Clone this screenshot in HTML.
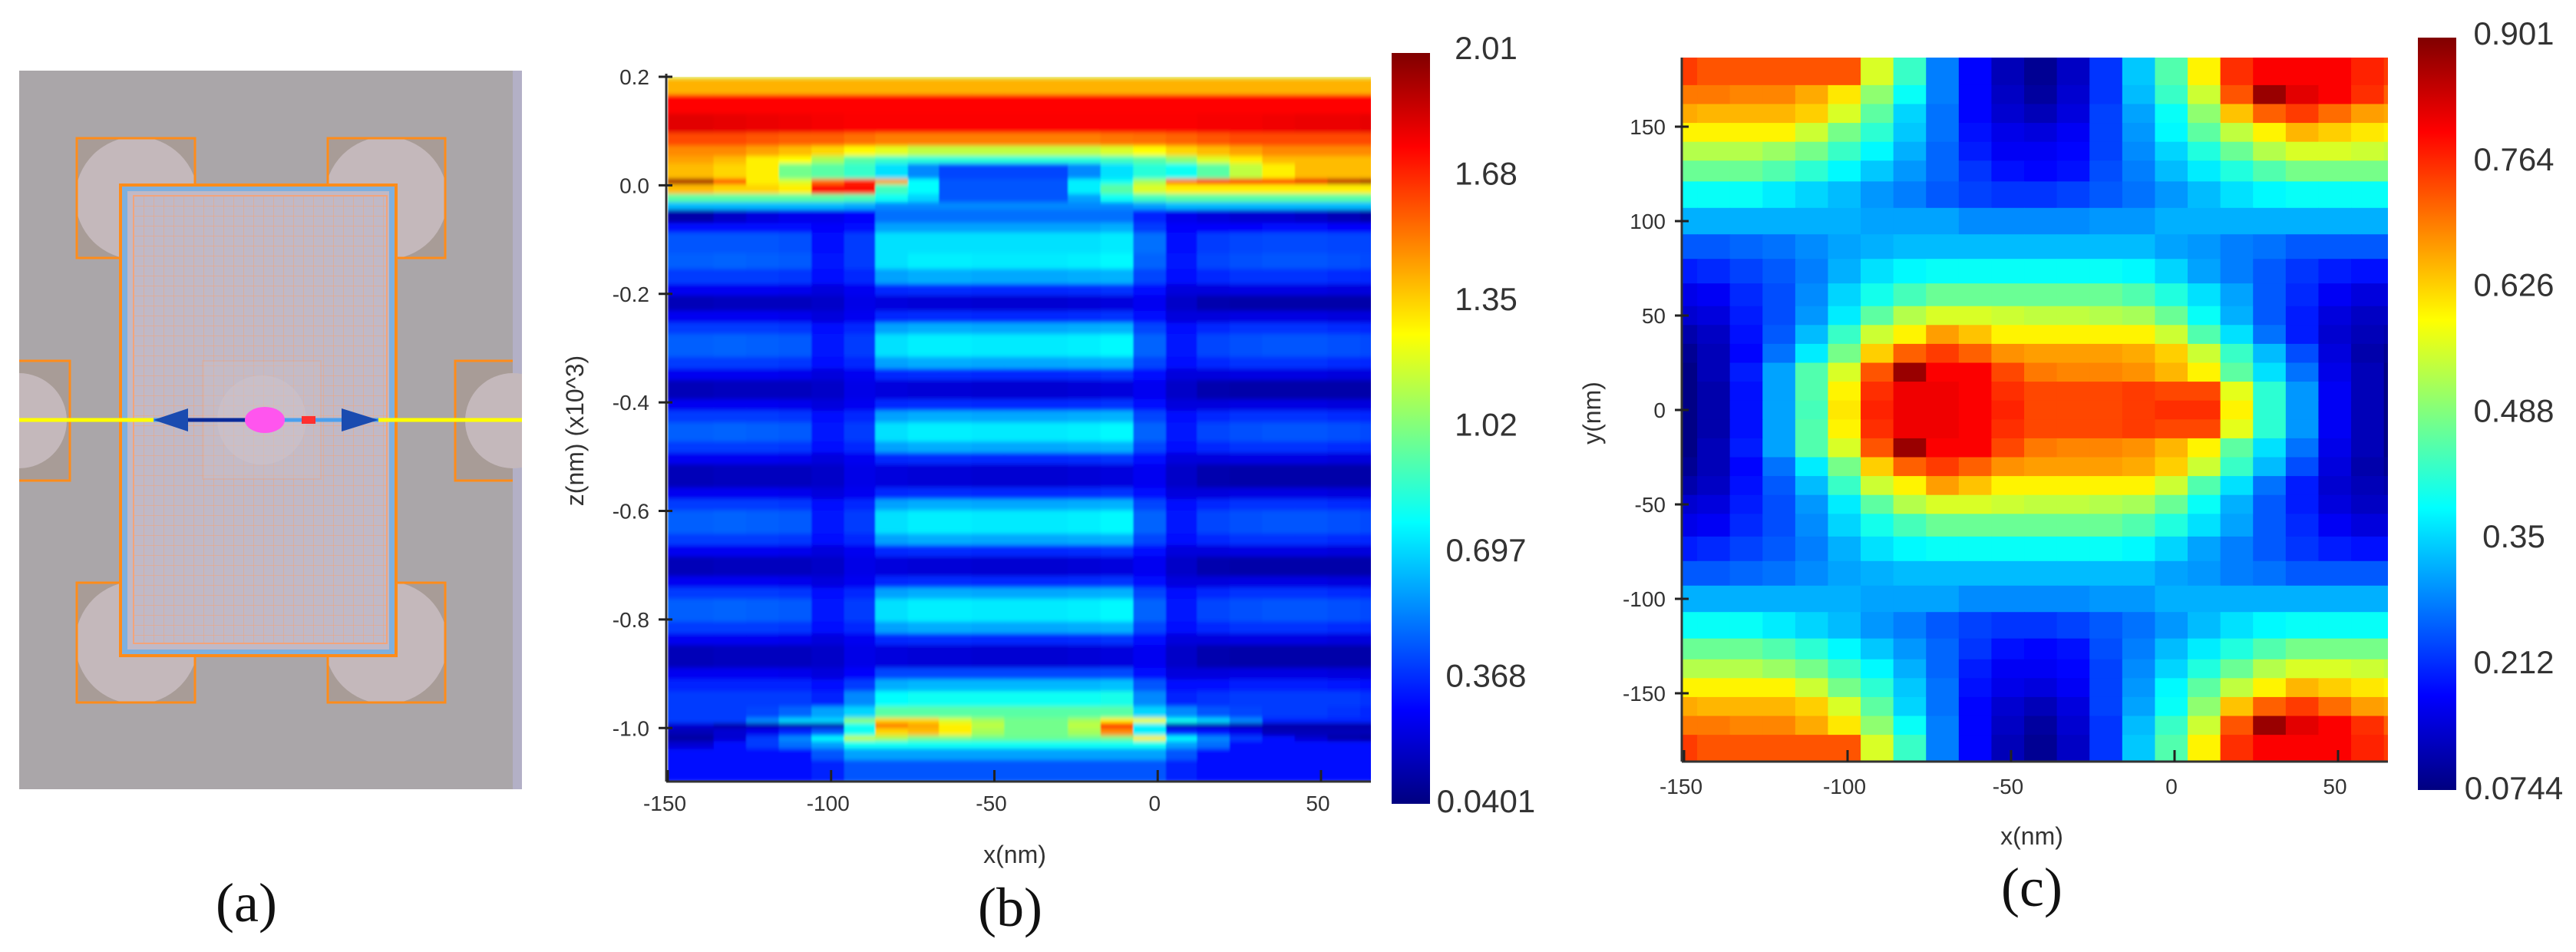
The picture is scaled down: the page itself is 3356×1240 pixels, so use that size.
<!DOCTYPE html>
<html><head><meta charset="utf-8"><style>
html,body{margin:0;padding:0;background:#fff;}
svg{display:block;font-family:"Liberation Sans",sans-serif;}
</style></head><body>
<svg id="fig" width="3356" height="1240" viewBox="0 0 3356 1240" xmlns="http://www.w3.org/2000/svg">
<defs>
<pattern id="gridpat" x="174" y="255" width="13" height="13" patternUnits="userSpaceOnUse">
<path d="M13 0 L0 0 0 13" fill="none" stroke="#f2a277" stroke-width="1.3" opacity="0.8"/>
</pattern>
<clipPath id="clipTL"><rect x="100" y="180" width="154" height="156"/></clipPath>
<clipPath id="clipTR"><rect x="427" y="180" width="153" height="156"/></clipPath>
<clipPath id="clipBL"><rect x="100" y="759" width="154" height="156"/></clipPath>
<clipPath id="clipBR"><rect x="427" y="759" width="153" height="156"/></clipPath>
<clipPath id="clipL"><rect x="25" y="470" width="66" height="156"/></clipPath>
<clipPath id="clipR"><rect x="593" y="470" width="87" height="156"/></clipPath>
<clipPath id="clipB"><rect x="868" y="100" width="918" height="918"/></clipPath>
<clipPath id="clipC"><rect x="2191" y="75" width="920" height="917"/></clipPath>
<filter id="vblur" x="0" y="0" width="1" height="1"><feGaussianBlur stdDeviation="1 3"/></filter>
<linearGradient id="jetGrad" x1="0" y1="1" x2="0" y2="0">
<stop offset="0" stop-color="#000080"/><stop offset="0.125" stop-color="#0000ff"/>
<stop offset="0.375" stop-color="#00ffff"/><stop offset="0.625" stop-color="#ffff00"/>
<stop offset="0.875" stop-color="#ff0000"/><stop offset="1" stop-color="#800000"/>
</linearGradient>
</defs>

<g>
<rect x="25" y="92" width="655" height="936" fill="#aaa6a9"/>
<rect x="668" y="92" width="12" height="936" fill="#b3b0c6"/>
<g><rect x="100" y="180" width="154" height="156" fill="#a89c97"/><circle cx="178" cy="258" r="80" fill="#c4b8bb" clip-path="url(#clipTL)"/><rect x="100" y="180" width="154" height="156" fill="none" stroke="#ff8c1a" stroke-width="3"/></g>
<g><rect x="427" y="180" width="153" height="156" fill="#a89c97"/><circle cx="503" cy="258" r="80" fill="#c4b8bb" clip-path="url(#clipTR)"/><rect x="427" y="180" width="153" height="156" fill="none" stroke="#ff8c1a" stroke-width="3"/></g>
<g><rect x="100" y="759" width="154" height="156" fill="#a89c97"/><circle cx="178" cy="837" r="80" fill="#c4b8bb" clip-path="url(#clipBL)"/><rect x="100" y="759" width="154" height="156" fill="none" stroke="#ff8c1a" stroke-width="3"/></g>
<g><rect x="427" y="759" width="153" height="156" fill="#a89c97"/><circle cx="503" cy="837" r="80" fill="#c4b8bb" clip-path="url(#clipBR)"/><rect x="427" y="759" width="153" height="156" fill="none" stroke="#ff8c1a" stroke-width="3"/></g>
<g><rect x="25" y="470" width="66" height="156" fill="#a89c97"/><circle cx="25" cy="548" r="62" fill="#c4b8bb" clip-path="url(#clipL)"/><path d="M25 470 H91 V626 H25" fill="none" stroke="#ff8c1a" stroke-width="3"/></g>
<g><rect x="593" y="470" width="75" height="156" fill="#a89c97"/><circle cx="668" cy="548" r="62" fill="#c4b8bb" clip-path="url(#clipR)"/><path d="M668 470 H593 V626 H668" fill="none" stroke="#ff8c1a" stroke-width="3"/></g>
<g>
<rect x="157" y="241" width="359" height="613" fill="#7db0e0" stroke="#ff8c1a" stroke-width="4"/>
<rect x="166" y="249" width="341" height="597" fill="#c0b9c7"/>
<rect x="174" y="255" width="330" height="583" fill="url(#gridpat)" stroke="#f3a47a" stroke-width="2"/>
<rect x="264" y="470" width="154" height="154" fill="#cbc2c9" opacity="0.3" stroke="#f3a47a" stroke-width="2"/>
<circle cx="341" cy="547" r="58" fill="#d2c8ce" opacity="0.35"/>
</g>
<line x1="25" y1="547" x2="680" y2="547" stroke="#ffff00" stroke-width="5"/>
<g>
<line x1="200" y1="547" x2="493" y2="547" stroke="#4aa0ee" stroke-width="5"/>
<line x1="235" y1="547" x2="345" y2="547" stroke="#0a2a9a" stroke-width="5"/>
<polygon points="200,547 245,532 245,562" fill="#1a4bb0"/>
<polygon points="493,547 445,532 445,562" fill="#1a4bb0"/>
<ellipse cx="345" cy="547" rx="26" ry="17" fill="#ff55ee"/>
<rect x="393" y="542" width="18" height="10" fill="#ff3030"/>
</g>
<text x="321" y="1200" font-family="'Liberation Serif',serif" font-size="72" text-anchor="middle" fill="#111">(a)</text>
</g>

<g id="panelB">
<g id="bHeat" clip-path="url(#clipB)"><g id="bCells" filter="url(#vblur)"></g></g>
<g id="bAxes"></g>
<rect x="1813" y="69" width="50" height="978" fill="url(#jetGrad)"/>
<g id="bCbLabels"></g>
<text x="0" y="0" transform="translate(760,561) rotate(-90)" font-size="32" text-anchor="middle" fill="#333">z(nm) (x10^3)</text>
<text x="1322" y="1124" font-size="32" text-anchor="middle" fill="#333">x(nm)</text>
<text x="1316" y="1206" font-family="'Liberation Serif',serif" font-size="72" text-anchor="middle" fill="#111">(b)</text>
</g>

<g id="panelC">
<g id="cHeat" clip-path="url(#clipC)"></g>
<g id="cAxes"></g>
<rect x="3150" y="49" width="50" height="980" fill="url(#jetGrad)"/>
<g id="cCbLabels"></g>
<text x="0" y="0" transform="translate(2085,538) rotate(-90)" font-size="32" text-anchor="middle" fill="#333">y(nm)</text>
<text x="2647" y="1100" font-size="32" text-anchor="middle" fill="#333">x(nm)</text>
<text x="2647" y="1180" font-family="'Liberation Serif',serif" font-size="72" text-anchor="middle" fill="#111">(c)</text>
</g>
</svg>
<script>
const bXEdges = [-150,-136,-126,-116,-106,-96,-86.5,-76.5,-67,-57,-47,-37.5,-27.5,-17.5,-7.5,2.5,12,22,32,42,52,62,66];
const bZEdges = [0.200,0.197,0.167,0.132,0.097,0.073,0.054,0.040,0.012,0.002,-0.016,-0.031,-0.045,-0.069,-0.087,-0.125,-0.154,-0.182,-0.203,-0.231,-0.253,-0.274,-0.316,-0.338,-0.359,-0.394,-0.415,-0.437,-0.472,-0.493,-0.514,-0.557,-0.578,-0.599,-0.642,-0.663,-0.684,-0.720,-0.741,-0.762,-0.804,-0.826,-0.847,-0.889,-0.910,-0.932,-0.960,-0.981,-0.991,-1.000,-1.014,-1.024,-1.038,-1.059,-1.100];
const bValues = [
[1.15,1.15,1.15,1.15,1.15,1.15,1.15,1.15,1.15,1.15,1.15,1.15,1.15,1.15,1.15,1.15,1.15,1.15,1.15,1.15,1.15,1.15],
[1.42,1.42,1.42,1.42,1.42,1.42,1.42,1.42,1.42,1.42,1.42,1.42,1.42,1.42,1.42,1.42,1.42,1.42,1.42,1.42,1.42,1.42],
[1.76,1.76,1.76,1.76,1.76,1.76,1.76,1.76,1.76,1.76,1.76,1.76,1.76,1.76,1.76,1.76,1.76,1.76,1.76,1.76,1.76,1.76],
[1.82,1.81,1.80,1.79,1.78,1.77,1.77,1.77,1.77,1.77,1.77,1.77,1.77,1.77,1.77,1.77,1.78,1.78,1.79,1.80,1.80,1.81],
[1.62,1.62,1.60,1.58,1.58,1.55,1.52,1.52,1.52,1.52,1.52,1.52,1.52,1.54,1.55,1.57,1.60,1.62,1.62,1.62,1.62,1.62],
[1.50,1.50,1.45,1.40,1.35,1.28,1.22,1.15,1.15,1.15,1.15,1.15,1.15,1.20,1.27,1.35,1.40,1.45,1.50,1.50,1.50,1.50],
[1.45,1.40,1.30,1.27,1.10,0.95,0.88,0.85,0.85,0.85,0.85,0.85,0.85,0.90,0.95,1.05,1.20,1.30,1.40,1.40,1.40,1.40],
[1.40,1.35,1.30,1.00,0.95,0.88,0.72,0.55,0.42,0.42,0.42,0.42,0.55,0.72,0.85,0.80,0.95,1.15,1.30,1.40,1.40,1.40],
[1.95,1.60,1.30,1.20,1.55,1.70,1.45,0.78,0.45,0.45,0.45,0.45,0.75,0.80,1.10,1.55,1.75,1.75,1.70,1.80,1.90,1.95],
[1.40,1.35,1.35,1.30,1.75,1.75,0.90,0.78,0.45,0.45,0.45,0.45,0.75,0.95,1.20,1.30,1.30,1.30,1.30,1.30,1.30,1.30],
[0.95,0.95,0.95,0.95,0.95,0.92,0.80,0.70,0.45,0.45,0.45,0.45,0.60,0.80,0.90,0.95,0.95,0.95,0.95,0.95,0.95,0.95],
[0.65,0.65,0.65,0.65,0.65,0.62,0.55,0.55,0.55,0.55,0.55,0.55,0.55,0.55,0.60,0.65,0.65,0.65,0.65,0.65,0.65,0.65],
[0.12,0.18,0.22,0.25,0.25,0.28,0.50,0.50,0.50,0.50,0.50,0.50,0.50,0.50,0.35,0.25,0.22,0.20,0.20,0.18,0.15,0.12],
[0.30,0.30,0.30,0.30,0.28,0.30,0.60,0.60,0.60,0.60,0.60,0.60,0.60,0.62,0.40,0.28,0.28,0.28,0.30,0.30,0.28,0.28],
[0.45,0.45,0.45,0.44,0.30,0.40,0.72,0.72,0.72,0.72,0.72,0.72,0.72,0.74,0.50,0.30,0.40,0.42,0.43,0.43,0.42,0.42],
[0.47,0.48,0.47,0.46,0.33,0.40,0.72,0.75,0.75,0.74,0.74,0.74,0.75,0.77,0.48,0.33,0.42,0.44,0.45,0.45,0.44,0.43],
[0.40,0.40,0.40,0.39,0.30,0.36,0.60,0.62,0.62,0.61,0.61,0.61,0.62,0.63,0.42,0.30,0.36,0.38,0.38,0.38,0.37,0.36],
[0.26,0.26,0.26,0.25,0.22,0.26,0.36,0.37,0.37,0.36,0.36,0.36,0.37,0.38,0.30,0.22,0.22,0.23,0.23,0.23,0.22,0.22],
[0.15,0.16,0.16,0.16,0.18,0.24,0.22,0.21,0.21,0.20,0.20,0.20,0.21,0.22,0.26,0.18,0.13,0.12,0.12,0.12,0.12,0.12],
[0.26,0.26,0.26,0.25,0.22,0.26,0.36,0.37,0.37,0.36,0.36,0.36,0.37,0.38,0.30,0.22,0.22,0.23,0.23,0.23,0.22,0.22],
[0.40,0.40,0.40,0.39,0.30,0.36,0.60,0.62,0.62,0.61,0.61,0.61,0.62,0.63,0.42,0.30,0.36,0.38,0.38,0.38,0.37,0.36],
[0.47,0.48,0.47,0.46,0.33,0.40,0.72,0.75,0.75,0.74,0.74,0.74,0.75,0.77,0.48,0.33,0.42,0.44,0.45,0.45,0.44,0.43],
[0.40,0.40,0.40,0.39,0.30,0.36,0.60,0.62,0.62,0.61,0.61,0.61,0.62,0.63,0.42,0.30,0.36,0.38,0.38,0.38,0.37,0.36],
[0.26,0.26,0.26,0.25,0.22,0.26,0.36,0.37,0.37,0.36,0.36,0.36,0.37,0.38,0.30,0.22,0.22,0.23,0.23,0.23,0.22,0.22],
[0.15,0.16,0.16,0.16,0.18,0.24,0.22,0.21,0.21,0.20,0.20,0.20,0.21,0.22,0.26,0.18,0.13,0.12,0.12,0.12,0.12,0.12],
[0.26,0.26,0.26,0.25,0.22,0.26,0.36,0.37,0.37,0.36,0.36,0.36,0.37,0.38,0.30,0.22,0.22,0.23,0.23,0.23,0.22,0.22],
[0.40,0.40,0.40,0.39,0.30,0.36,0.60,0.62,0.62,0.61,0.61,0.61,0.62,0.63,0.42,0.30,0.36,0.38,0.38,0.38,0.37,0.36],
[0.47,0.48,0.47,0.46,0.33,0.40,0.72,0.75,0.75,0.74,0.74,0.74,0.75,0.77,0.48,0.33,0.42,0.44,0.45,0.45,0.44,0.43],
[0.40,0.40,0.40,0.39,0.30,0.36,0.60,0.62,0.62,0.61,0.61,0.61,0.62,0.63,0.42,0.30,0.36,0.38,0.38,0.38,0.37,0.36],
[0.26,0.26,0.26,0.25,0.22,0.26,0.36,0.37,0.37,0.36,0.36,0.36,0.37,0.38,0.30,0.22,0.22,0.23,0.23,0.23,0.22,0.22],
[0.15,0.16,0.16,0.16,0.18,0.24,0.22,0.21,0.21,0.20,0.20,0.20,0.21,0.22,0.26,0.18,0.13,0.12,0.12,0.12,0.12,0.12],
[0.26,0.26,0.26,0.25,0.22,0.26,0.36,0.37,0.37,0.36,0.36,0.36,0.37,0.38,0.30,0.22,0.22,0.23,0.23,0.23,0.22,0.22],
[0.40,0.40,0.40,0.39,0.30,0.36,0.60,0.62,0.62,0.61,0.61,0.61,0.62,0.63,0.42,0.30,0.36,0.38,0.38,0.38,0.37,0.36],
[0.47,0.48,0.47,0.46,0.33,0.40,0.72,0.75,0.75,0.74,0.74,0.74,0.75,0.77,0.48,0.33,0.42,0.44,0.45,0.45,0.44,0.43],
[0.40,0.40,0.40,0.39,0.30,0.36,0.60,0.62,0.62,0.61,0.61,0.61,0.62,0.63,0.42,0.30,0.36,0.38,0.38,0.38,0.37,0.36],
[0.26,0.26,0.26,0.25,0.22,0.26,0.36,0.37,0.37,0.36,0.36,0.36,0.37,0.38,0.30,0.22,0.22,0.23,0.23,0.23,0.22,0.22],
[0.15,0.16,0.16,0.16,0.18,0.24,0.22,0.21,0.21,0.20,0.20,0.20,0.21,0.22,0.26,0.18,0.13,0.12,0.12,0.12,0.12,0.12],
[0.26,0.26,0.26,0.25,0.22,0.26,0.36,0.37,0.37,0.36,0.36,0.36,0.37,0.38,0.30,0.22,0.22,0.23,0.23,0.23,0.22,0.22],
[0.40,0.40,0.40,0.39,0.30,0.36,0.60,0.62,0.62,0.61,0.61,0.61,0.62,0.63,0.42,0.30,0.36,0.38,0.38,0.38,0.37,0.36],
[0.47,0.48,0.47,0.46,0.33,0.40,0.72,0.75,0.75,0.74,0.74,0.74,0.75,0.77,0.48,0.33,0.42,0.44,0.45,0.45,0.44,0.43],
[0.40,0.40,0.40,0.39,0.30,0.36,0.60,0.62,0.62,0.61,0.61,0.61,0.62,0.63,0.42,0.30,0.36,0.38,0.38,0.38,0.37,0.36],
[0.26,0.26,0.26,0.25,0.22,0.26,0.36,0.37,0.37,0.36,0.36,0.36,0.37,0.38,0.30,0.22,0.22,0.23,0.23,0.23,0.22,0.22],
[0.15,0.16,0.16,0.16,0.18,0.24,0.22,0.21,0.21,0.20,0.20,0.20,0.21,0.22,0.26,0.18,0.13,0.12,0.12,0.12,0.12,0.12],
[0.26,0.26,0.26,0.25,0.22,0.28,0.42,0.42,0.42,0.42,0.42,0.42,0.42,0.43,0.32,0.22,0.22,0.23,0.23,0.23,0.22,0.22],
[0.35,0.35,0.35,0.35,0.30,0.40,0.62,0.64,0.64,0.64,0.64,0.64,0.64,0.66,0.45,0.30,0.32,0.34,0.34,0.34,0.33,0.32],
[0.40,0.40,0.40,0.40,0.35,0.55,0.78,0.80,0.80,0.80,0.80,0.80,0.80,0.82,0.55,0.35,0.38,0.40,0.40,0.40,0.40,0.38],
[0.40,0.40,0.42,0.48,0.60,0.70,0.95,0.95,0.95,0.95,0.95,0.95,0.95,0.95,0.70,0.55,0.45,0.42,0.40,0.40,0.38,0.36],
[0.40,0.40,0.55,0.70,0.70,1.05,1.35,1.35,1.20,1.10,1.00,1.00,1.10,1.30,1.25,0.80,0.70,0.55,0.35,0.35,0.35,0.35],
[0.20,0.12,0.12,0.12,0.12,0.80,1.55,1.45,1.30,1.15,1.00,1.00,1.15,1.75,0.75,0.12,0.12,0.12,0.12,0.12,0.12,0.12],
[0.15,0.20,0.25,0.35,0.45,0.80,1.35,1.40,1.30,1.10,1.00,1.00,1.10,1.50,0.75,0.35,0.30,0.25,0.15,0.15,0.15,0.15],
[0.10,0.20,0.40,0.55,0.78,1.15,1.10,1.00,1.00,0.98,0.98,0.98,0.98,1.00,1.30,0.78,0.55,0.40,0.30,0.20,0.12,0.10],
[0.20,0.30,0.40,0.50,0.60,0.80,0.80,0.80,0.80,0.80,0.80,0.80,0.80,0.80,0.80,0.60,0.50,0.30,0.30,0.30,0.30,0.30],
[0.30,0.30,0.30,0.30,0.45,0.60,0.60,0.60,0.60,0.60,0.60,0.60,0.60,0.60,0.60,0.45,0.30,0.30,0.30,0.30,0.30,0.30],
[0.30,0.30,0.30,0.30,0.35,0.45,0.45,0.45,0.45,0.45,0.45,0.45,0.45,0.45,0.45,0.35,0.30,0.30,0.30,0.30,0.30,0.30]
];
const bXTicks = [-150,-100,-50,0,50];
const bZTicks = [0.2,0.0,-0.2,-0.4,-0.6,-0.8,-1.0];
const bZTickLabels = ["0.2","0.0","-0.2","-0.4","-0.6","-0.8","-1.0"];
const bColorbarLabels = ["2.01","1.68","1.35","1.02","0.697","0.368","0.0401"];
const bRange = [0.0401, 2.01];

const cXEdges = [-151,-146,-136,-126,-116,-106,-96,-86,-76,-66,-56,-46,-36,-26,-16,-6,4,14,24,34,44,54,64,66];
const cYEdges = [187,172,162,152,142,132,121,107,93,80,67,55,45,35,25,15,5,-5,-15,-25,-35,-45,-55,-67,-80,-93,-107,-121,-132,-142,-152,-162,-172,-187];
const cValues = [
[0.75,0.73,0.73,0.73,0.73,0.73,0.56,0.43,0.28,0.18,0.12,0.09,0.13,0.22,0.34,0.45,0.60,0.76,0.80,0.80,0.80,0.77,0.75],
[0.70,0.70,0.69,0.69,0.66,0.61,0.50,0.39,0.28,0.18,0.13,0.10,0.14,0.22,0.33,0.43,0.55,0.73,0.88,0.82,0.80,0.76,0.72],
[0.66,0.65,0.65,0.65,0.63,0.56,0.46,0.35,0.27,0.18,0.14,0.12,0.15,0.23,0.31,0.39,0.50,0.64,0.72,0.75,0.71,0.67,0.66],
[0.60,0.60,0.60,0.60,0.55,0.48,0.42,0.34,0.27,0.19,0.16,0.15,0.17,0.23,0.30,0.38,0.46,0.54,0.60,0.65,0.63,0.61,0.60],
[0.53,0.53,0.53,0.51,0.48,0.43,0.38,0.32,0.26,0.20,0.17,0.17,0.18,0.23,0.29,0.35,0.41,0.47,0.53,0.56,0.56,0.55,0.54],
[0.47,0.47,0.47,0.45,0.42,0.38,0.34,0.30,0.26,0.22,0.19,0.18,0.19,0.24,0.28,0.33,0.37,0.41,0.45,0.48,0.48,0.48,0.48],
[0.39,0.39,0.39,0.37,0.35,0.33,0.30,0.28,0.25,0.23,0.22,0.22,0.23,0.25,0.27,0.30,0.33,0.36,0.38,0.39,0.39,0.39,0.39],
[0.32,0.32,0.32,0.32,0.32,0.32,0.31,0.31,0.31,0.29,0.29,0.29,0.29,0.30,0.30,0.32,0.32,0.32,0.32,0.32,0.32,0.32,0.32],
[0.25,0.25,0.26,0.27,0.29,0.31,0.32,0.33,0.33,0.33,0.33,0.33,0.33,0.33,0.33,0.31,0.30,0.28,0.27,0.25,0.25,0.25,0.25],
[0.20,0.21,0.23,0.25,0.28,0.32,0.36,0.38,0.39,0.39,0.39,0.39,0.39,0.39,0.38,0.35,0.31,0.28,0.25,0.22,0.20,0.19,0.19],
[0.16,0.17,0.21,0.24,0.29,0.35,0.40,0.44,0.47,0.47,0.47,0.47,0.47,0.47,0.45,0.41,0.36,0.31,0.25,0.21,0.17,0.15,0.15],
[0.14,0.15,0.20,0.24,0.30,0.37,0.46,0.53,0.56,0.56,0.55,0.54,0.54,0.53,0.52,0.47,0.39,0.32,0.25,0.20,0.15,0.13,0.13],
[0.11,0.13,0.19,0.25,0.33,0.43,0.55,0.60,0.67,0.64,0.60,0.60,0.60,0.60,0.60,0.55,0.45,0.36,0.27,0.20,0.14,0.12,0.11],
[0.09,0.12,0.18,0.27,0.37,0.48,0.63,0.72,0.75,0.72,0.68,0.67,0.67,0.67,0.66,0.63,0.55,0.43,0.33,0.24,0.15,0.11,0.09],
[0.08,0.12,0.20,0.31,0.45,0.56,0.73,0.88,0.80,0.80,0.74,0.70,0.69,0.69,0.68,0.65,0.60,0.46,0.36,0.27,0.16,0.12,0.08],
[0.08,0.11,0.19,0.31,0.45,0.60,0.76,0.81,0.81,0.80,0.76,0.74,0.74,0.74,0.75,0.74,0.74,0.57,0.42,0.30,0.17,0.12,0.08],
[0.08,0.11,0.19,0.31,0.44,0.61,0.77,0.81,0.81,0.80,0.77,0.74,0.74,0.74,0.75,0.76,0.76,0.60,0.42,0.30,0.17,0.12,0.08],
[0.08,0.11,0.19,0.31,0.45,0.60,0.76,0.81,0.81,0.80,0.76,0.74,0.74,0.74,0.75,0.74,0.74,0.57,0.42,0.30,0.17,0.12,0.08],
[0.08,0.12,0.20,0.31,0.45,0.56,0.73,0.88,0.80,0.80,0.74,0.70,0.69,0.69,0.68,0.65,0.60,0.46,0.36,0.27,0.16,0.12,0.08],
[0.09,0.12,0.18,0.27,0.37,0.48,0.63,0.72,0.75,0.72,0.68,0.67,0.67,0.67,0.66,0.63,0.55,0.43,0.33,0.24,0.15,0.11,0.09],
[0.11,0.13,0.19,0.25,0.33,0.43,0.55,0.60,0.67,0.64,0.60,0.60,0.60,0.60,0.60,0.55,0.45,0.36,0.27,0.20,0.14,0.12,0.11],
[0.14,0.15,0.20,0.24,0.30,0.37,0.46,0.53,0.56,0.56,0.55,0.54,0.54,0.53,0.52,0.47,0.39,0.32,0.25,0.20,0.15,0.13,0.13],
[0.16,0.17,0.21,0.24,0.29,0.35,0.40,0.44,0.47,0.47,0.47,0.47,0.47,0.47,0.45,0.41,0.36,0.31,0.25,0.21,0.17,0.15,0.15],
[0.20,0.21,0.23,0.25,0.28,0.32,0.36,0.38,0.39,0.39,0.39,0.39,0.39,0.39,0.38,0.35,0.31,0.28,0.25,0.22,0.20,0.19,0.19],
[0.25,0.25,0.26,0.27,0.29,0.31,0.32,0.33,0.33,0.33,0.33,0.33,0.33,0.33,0.33,0.31,0.30,0.28,0.27,0.25,0.25,0.25,0.25],
[0.32,0.32,0.32,0.32,0.32,0.32,0.31,0.31,0.31,0.29,0.29,0.29,0.29,0.30,0.30,0.32,0.32,0.32,0.32,0.32,0.32,0.32,0.32],
[0.39,0.39,0.39,0.37,0.35,0.33,0.30,0.28,0.25,0.23,0.22,0.22,0.23,0.25,0.27,0.30,0.33,0.36,0.38,0.39,0.39,0.39,0.39],
[0.47,0.47,0.47,0.45,0.42,0.38,0.34,0.30,0.26,0.22,0.19,0.18,0.19,0.24,0.28,0.33,0.37,0.41,0.45,0.48,0.48,0.48,0.48],
[0.53,0.53,0.53,0.51,0.48,0.43,0.38,0.32,0.26,0.20,0.17,0.17,0.18,0.23,0.29,0.35,0.41,0.47,0.53,0.56,0.56,0.55,0.54],
[0.60,0.60,0.60,0.60,0.55,0.48,0.42,0.34,0.27,0.19,0.16,0.15,0.17,0.23,0.30,0.38,0.46,0.54,0.60,0.65,0.63,0.61,0.60],
[0.66,0.65,0.65,0.65,0.63,0.56,0.46,0.35,0.27,0.18,0.14,0.12,0.15,0.23,0.31,0.39,0.50,0.64,0.72,0.75,0.71,0.67,0.66],
[0.70,0.70,0.69,0.69,0.66,0.61,0.50,0.39,0.28,0.18,0.13,0.10,0.14,0.22,0.33,0.43,0.55,0.73,0.88,0.82,0.80,0.76,0.72],
[0.75,0.73,0.73,0.73,0.73,0.73,0.56,0.43,0.28,0.18,0.12,0.09,0.13,0.22,0.34,0.45,0.60,0.76,0.80,0.80,0.80,0.77,0.75]
];
const cXTicks = [-150,-100,-50,0,50];
const cYTicks = [150,100,50,0,-50,-100,-150];
const cColorbarLabels = ["0.901","0.764","0.626","0.488","0.35","0.212","0.0744"];
const cRange = [0.0744, 0.901];

const NS = "http://www.w3.org/2000/svg";
function mk(tag, attrs, parent){ const e=document.createElementNS(NS,tag); for(const k in attrs) e.setAttribute(k,attrs[k]); parent.appendChild(e); return e; }
function jet(t){ t=Math.max(0,Math.min(1,t)); const c=x=>Math.round(255*Math.max(0,Math.min(1,1.5-Math.abs(x)))); return "rgb("+c(4*t-3)+","+c(4*t-2)+","+c(4*t-1)+")"; }
const bx = v => 870 + (v + 150) * 4.255;
const bz = z => 100 + (0.2 - z) * 706.9;
const cx = v => 2194 + (v + 150) * 4.26;
const cy = v => 534 - v * 2.46;

const bCells = document.getElementById('bCells');
for (let r = 0; r < bValues.length; r++) {
  for (let c = 0; c < bValues[r].length; c++) {
    const x0 = bx(bXEdges[c]), x1 = bx(bXEdges[c+1]), y0 = bz(bZEdges[r]), y1 = bz(bZEdges[r+1]);
    const el = mk('rect', {x:x0, y:y0, width:x1-x0+0.6, height:y1-y0+0.6, fill:jet((bValues[r][c]-bRange[0])/(bRange[1]-bRange[0]))}, bCells);
    
    
  }
}
const bAxes = document.getElementById('bAxes');
let ax = mk('line', {x1:868, y1:96, x2:868, y2:1018, stroke:'#333', 'stroke-width':3}, bAxes);


ax = mk('line', {x1:868, y1:1018, x2:1786, y2:1018, stroke:'#333', 'stroke-width':3}, bAxes);


bZTicks.forEach((z, i) => {
  const t = mk('line', {x1:858, y1:bz(z), x2:876, y2:bz(z), stroke:'#222', 'stroke-width':3}, bAxes);
  
  
  const l = mk('text', {x:846, y:bz(z)+10, 'font-size':28, 'text-anchor':'end', fill:'#333'}, bAxes);
  l.textContent = bZTickLabels[i];
  
  
});
bXTicks.forEach(v => {
  const t = mk('line', {x1:bx(v), y1:1003, x2:bx(v), y2:1018, stroke:'#222', 'stroke-width':3}, bAxes);
  
  
  const l = mk('text', {x:bx(v)-4, y:1056, 'font-size':28, 'text-anchor':'middle', fill:'#333'}, bAxes);
  l.textContent = String(v);
  
  
});
const bCb = document.getElementById('bCbLabels');
bColorbarLabels.forEach((s, i) => {
  const l = mk('text', {x:1936, y:62 + i*163.5 + 15, 'font-size':42, 'text-anchor':'middle', fill:'#333'}, bCb);
  l.textContent = s;
  
  
});

const cHeat = document.getElementById('cHeat');
for (let r = 0; r < cValues.length; r++) {
  for (let c = 0; c < cValues[r].length; c++) {
    const x0 = cx(cXEdges[c]), x1 = cx(cXEdges[c+1]), y0 = cy(cYEdges[r]), y1 = cy(cYEdges[r+1]);
    const el = mk('rect', {x:x0, y:y0, width:x1-x0+0.6, height:y1-y0+0.6, fill:jet((cValues[r][c]-cRange[0])/(cRange[1]-cRange[0]))}, cHeat);
    
    
  }
}
const cAxes = document.getElementById('cAxes');
ax = mk('line', {x1:2191, y1:75, x2:2191, y2:992, stroke:'#333', 'stroke-width':3}, cAxes);


ax = mk('line', {x1:2191, y1:992, x2:3111, y2:992, stroke:'#333', 'stroke-width':3}, cAxes);


cYTicks.forEach(v => {
  const t = mk('line', {x1:2182, y1:cy(v), x2:2200, y2:cy(v), stroke:'#222', 'stroke-width':3}, cAxes);
  
  
  const l = mk('text', {x:2170, y:cy(v)+10, 'font-size':28, 'text-anchor':'end', fill:'#333'}, cAxes);
  l.textContent = String(v);
  
  
});
cXTicks.forEach(v => {
  const t = mk('line', {x1:cx(v), y1:977, x2:cx(v), y2:992, stroke:'#222', 'stroke-width':3}, cAxes);
  
  
  const l = mk('text', {x:cx(v)-4, y:1034, 'font-size':28, 'text-anchor':'middle', fill:'#333'}, cAxes);
  l.textContent = String(v);
  
  
});
const cCb = document.getElementById('cCbLabels');
cColorbarLabels.forEach((s, i) => {
  const l = mk('text', {x:3275, y:43 + i*163.8 + 15, 'font-size':42, 'text-anchor':'middle', fill:'#333'}, cCb);
  l.textContent = s;
  
  
});
</script>
</body></html>
